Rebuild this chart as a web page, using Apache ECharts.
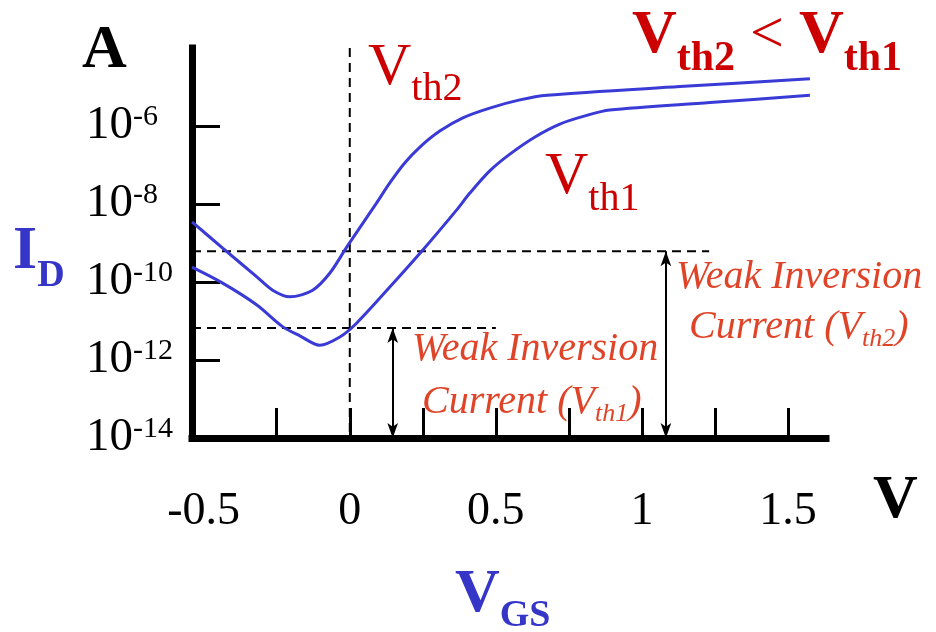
<!DOCTYPE html>
<html>
<head>
<meta charset="utf-8">
<script src="https://cdn.jsdelivr.net/npm/echarts/dist/echarts.min.js"></script>
<style>
html,body{margin:0;padding:0;background:#fff;}
#chart{width:936px;height:632px;}
</style>
</head>
<body>
<div id="chart"></div>
<script>
// ---- data (x: VGS in V, y: log10 of ID in A) ----
const vgsVth2   = [-0.54, -0.435, -0.318, -0.264, -0.205, -0.127, -0.068, -0.010, 0.092, 0.137, 0.188, 0.240, 0.308, 0.387, 0.479, 0.582, 0.675, 1.130, 1.575];
const logIdVth2 = [-8.46, -9.13, -9.87, -10.21, -10.38, -10.21, -9.77, -9.10, -7.97, -7.46, -6.95, -6.54, -6.13, -5.79, -5.54, -5.33, -5.21, -4.99, -4.79];
const vgsVth1   = [-0.54, -0.435, -0.318, -0.229, -0.171, -0.103, -0.034, 0.024, 0.137, 0.250, 0.366, 0.411, 0.479, 0.548, 0.634, 0.719, 0.805, 0.890, 1.233, 1.575];
const logIdVth1 = [-9.62, -10.03, -10.59, -11.15, -11.38, -11.62, -11.41, -11.05, -10.13, -9.18, -8.15, -7.72, -7.15, -6.72, -6.28, -5.95, -5.74, -5.59, -5.40, -5.21];

const xTickValues  = [-0.25, 0, 0.25, 0.5, 0.75, 1, 1.25, 1.5];
const xLabelValues = [-0.5, 0, 0.5, 1, 1.5];
const yTickValues  = [-12, -10, -8, -6];
const yLabelValues = [-14, -12, -10, -8, -6];

const vgsRange   = [-0.54, 1.63];
const logIdRange = [-14, -4];

// weak inversion current levels and their annotation positions
const weakInvLevelVth1 = -11.18;
const weakInvLevelVth2 = -9.21;
const dashEndVth1 = 0.5;
const dashEndVth2 = 1.23;
const arrowVgsVth1 = 0.147;
const arrowVgsVth2 = 1.082;
const zeroVgs = 0;

// ---- styling ----
const SERIF = 'Liberation Serif';
const BLUE = '#3a3ad6';
const BLUE_TXT = '#3535c8';
const RED = '#cc0000';
const ORANGE = '#e04428';

const zip = (xs, ys) => xs.map((x, i) => [x, ys[i]]);

function txt(text, x, y, rich, fill) {
  return {
    type: 'text', x: x, y: y, z: 100, silent: true,
    style: {
      text: text, rich: rich, fill: fill,
      align: 'left', verticalAlign: 'middle',
      textAlign: 'left', textVerticalAlign: 'middle',
      font: '40px "' + SERIF + '"'
    }
  };
}
function rs(size, weight, style, fill, padTop) {
  const o = { fontSize: size, fontWeight: weight, fontStyle: style, fontFamily: SERIF, fill: fill, color: fill };
  if (padTop) o.padding = [padTop, 0, 0, 0];
  return o;
}

const dashStyle = { color: '#000', width: 2, type: [9, 6] };

const option = {
  animation: false,
  backgroundColor: '#fff',
  grid: { left: 192, top: 48, width: 634, height: 390, containLabel: false },
  xAxis: {
    type: 'value', min: vgsRange[0], max: vgsRange[1],
    axisLine: { show: true, onZero: false, lineStyle: { color: '#000', width: 7, cap: 'square' } },
    axisTick: { show: true, inside: true, length: 30, customValues: xTickValues, lineStyle: { color: '#000', width: 3 } },
    axisLabel: {
      customValues: xLabelValues, margin: 51,
      fontFamily: SERIF, fontSize: 46, color: '#000',
      formatter: v => String(v)
    },
    splitLine: { show: false }
  },
  yAxis: {
    type: 'value', min: logIdRange[0], max: logIdRange[1],
    axisLine: { show: true, onZero: false, lineStyle: { color: '#000', width: 7, cap: 'square' } },
    axisTick: { show: true, inside: true, length: 28, customValues: yTickValues, lineStyle: { color: '#000', width: 3 } },
    axisLabel: {
      customValues: yLabelValues, margin: 106, align: 'left',
      formatter: v => '{n|10}{e|' + v + '}',
      rich: {
        n: { fontFamily: SERIF, fontSize: 47, color: '#000' },
        e: { fontFamily: SERIF, fontSize: 30, color: '#000', padding: [0, 0, 18, 0] }
      }
    },
    splitLine: { show: false }
  },
  series: [
    { name: 'Vth2', type: 'line', data: zip(vgsVth2, logIdVth2), smooth: 0.3, symbol: 'none',
      lineStyle: { color: BLUE, width: 3 }, z: 5 },
    { name: 'Vth1', type: 'line', data: zip(vgsVth1, logIdVth1), smooth: 0.3, symbol: 'none',
      lineStyle: { color: BLUE, width: 3 }, z: 5 },
    { name: 'levelVth2', type: 'line', data: [[vgsRange[0], weakInvLevelVth2], [dashEndVth2, weakInvLevelVth2]],
      symbol: 'none', lineStyle: dashStyle, z: 3 },
    { name: 'levelVth1', type: 'line', data: [[vgsRange[0], weakInvLevelVth1], [dashEndVth1, weakInvLevelVth1]],
      symbol: 'none', lineStyle: dashStyle, z: 3 },
    { name: 'zero', type: 'line', data: [[zeroVgs, logIdRange[1]], [zeroVgs, logIdRange[0]]],
      symbol: 'none', lineStyle: dashStyle, z: 3,
      markLine: {
        silent: true, symbol: ['arrow', 'arrow'], symbolSize: [8, 15],
        label: { show: false },
        lineStyle: { color: '#000', width: 2, type: 'solid' },
        emphasis: { disabled: true },
        data: [
          [{ coord: [arrowVgsVth1, weakInvLevelVth1] }, { coord: [arrowVgsVth1, logIdRange[0]] }],
          [{ coord: [arrowVgsVth2, weakInvLevelVth2] }, { coord: [arrowVgsVth2, logIdRange[0]] }]
        ]
      }
    }
  ],
  graphic: [
    txt('{a|A}', 82, 51, { a: rs(62, 'bold', 'normal', '#000') }, '#000'),
    txt('{a|V}', 873, 501, { a: rs(62, 'bold', 'normal', '#000') }, '#000'),
    txt('{a|I}{b|D}', 13, 252, { a: rs(62, 'bold', 'normal', BLUE_TXT), b: rs(38, 'bold', 'normal', BLUE_TXT, 48) }, BLUE_TXT),
    txt('{a|V}{b|GS}', 455, 595, { a: rs(62, 'bold', 'normal', BLUE_TXT), b: rs(38, 'bold', 'normal', BLUE_TXT, 43) }, BLUE_TXT),
    txt('{a|V}{b|th2}', 368, 68, { a: rs(60, 'normal', 'normal', RED), b: rs(40, 'normal', 'normal', RED, 43) }, RED),
    txt('{a|V}{b|th1}', 545, 177, { a: rs(60, 'normal', 'normal', RED), b: rs(40, 'normal', 'normal', RED, 44) }, RED),
    txt('{a|V}{b|th2}{c| < }{a|V}{b|th1}', 632, 36, {
      a: rs(62, 'bold', 'normal', RED), b: rs(42, 'bold', 'normal', RED, 47), c: rs(60, 'normal', 'normal', RED)
    }, RED),
    txt('{m|Weak Inversion}', 412, 349, { m: rs(40, 'normal', 'italic', ORANGE) }, ORANGE),
    txt('{m|Current (V}{s|th1}{m|)}', 422, 402, { m: rs(40, 'normal', 'italic', ORANGE), s: rs(26, 'normal', 'italic', ORANGE, 24) }, ORANGE),
    txt('{m|Weak Inversion}', 676, 277, { m: rs(40, 'normal', 'italic', ORANGE) }, ORANGE),
    txt('{m|Current (V}{s|th2}{m|)}', 689, 327, { m: rs(40, 'normal', 'italic', ORANGE), s: rs(26, 'normal', 'italic', ORANGE, 24) }, ORANGE)
  ]
};

const chart = echarts.init(document.getElementById('chart'), null, { renderer: 'canvas' });
chart.setOption(option);
</script>
</body>
</html>
